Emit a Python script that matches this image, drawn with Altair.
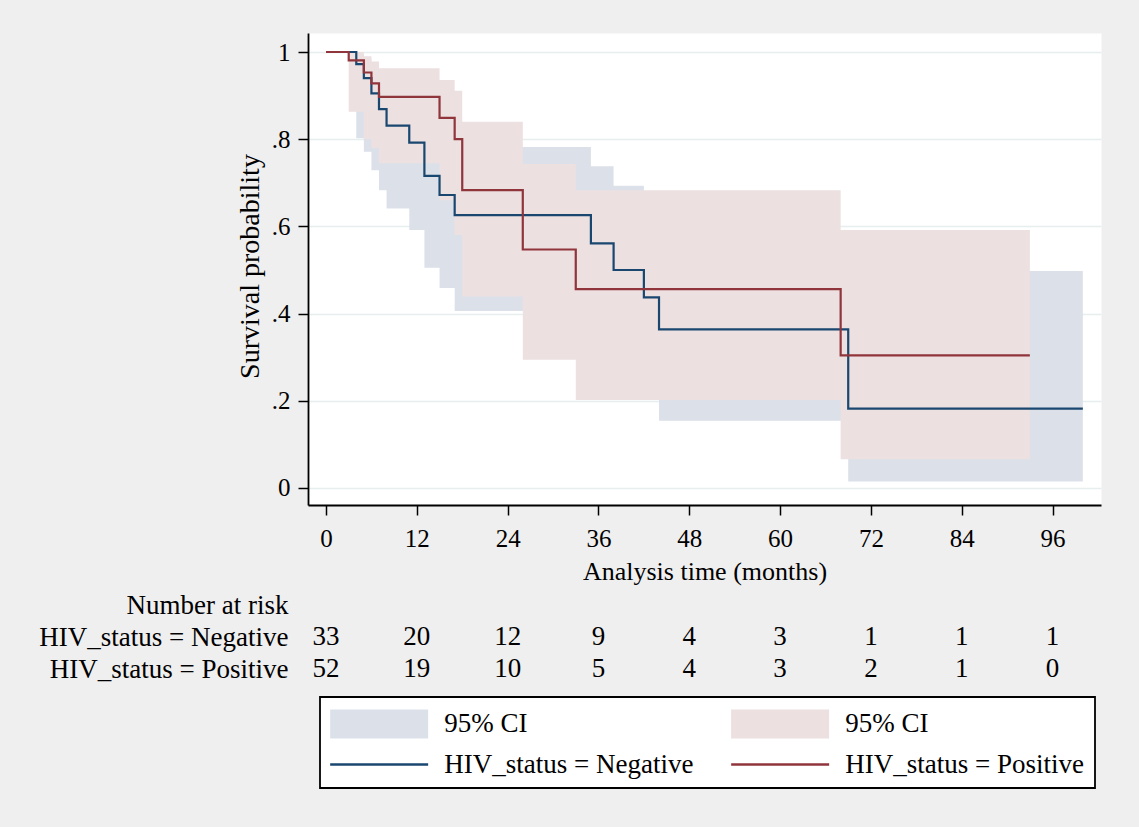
import altair as alt
import pandas as pd

FONT = "Liberation Serif"
FS_TICK = 25
FS_XTITLE = 26
FS_YTITLE = 28
FS_TEXT = 27

# ---- Kaplan-Meier estimates ----
neg_time = [0, 4, 5, 6, 7, 8, 11, 13, 15, 17, 35, 38, 42, 44, 69, 100]
neg_surv = [1.0, 0.972, 0.940, 0.905, 0.869, 0.831, 0.792, 0.716, 0.672, 0.626,
            0.561, 0.500, 0.437, 0.364, 0.182, 0.182]

pos_time = [0, 3, 5, 6, 7, 15, 17, 18, 26, 33, 68, 93]
pos_surv = [1.0, 0.981, 0.953, 0.928, 0.897, 0.849, 0.800, 0.683, 0.547, 0.456,
            0.304, 0.304]

# ---- 95% confidence bands ----
neg_ci_time = [4, 5, 6, 7, 8, 11, 13, 15, 17, 35, 38, 42, 44, 69, 100]
neg_lo = [0.802, 0.771, 0.729, 0.683, 0.641, 0.592, 0.505, 0.459, 0.406, 0.33,
          0.28, 0.23, 0.154, 0.015, 0.015]
neg_hi = [0.995, 0.985, 0.97, 0.95, 0.93, 0.90, 0.85, 0.82, 0.782, 0.738,
          0.693, 0.64, 0.58, 0.498, 0.498]

pos_ci_time = [3, 5, 6, 7, 15, 17, 18, 26, 33, 68, 93]
pos_lo = [0.863, 0.80, 0.78, 0.745, 0.66, 0.58, 0.439, 0.294, 0.202, 0.066, 0.066]
pos_hi = [1.0, 0.99, 0.978, 0.963, 0.936, 0.911, 0.84, 0.743, 0.683, 0.592, 0.592]

# ---- number at risk table ----
risk_times = [0, 12, 24, 36, 48, 60, 72, 84, 96]
risk_neg = [33, 20, 12, 9, 4, 3, 1, 1, 1]
risk_pos = [52, 19, 10, 5, 4, 3, 2, 1, 0]
risk_rows = ["Number at risk", "HIV_status = Negative", "HIV_status = Positive"]

# ---- legend entries (column-major: negative column, positive column) ----
legend_keys = ["95% CI|Negative", "HIV_status = Negative",
               "95% CI|Positive", "HIV_status = Positive"]
legend_colors = ["#dce1e9", "#1a476f", "#ece0e1", "#90353b"]
ci_neg_colour, line_neg_colour, ci_pos_colour, line_pos_colour = legend_colors

x_ticks = list(range(0, 97, 12))
y_ticks = [0, 0.2, 0.4, 0.6, 0.8, 1]

ci_path = "M-3,-0.888H3V0.888H-3Z"
line_path = "M-3,-0.08H3V0.08H-3Z"

neg_ci = pd.DataFrame({"t": neg_ci_time, "lo": neg_lo, "hi": neg_hi})
pos_ci = pd.DataFrame({"t": pos_ci_time, "lo": pos_lo, "hi": pos_hi})
neg_km = pd.DataFrame({"t": neg_time, "s": neg_surv})
pos_km = pd.DataFrame({"t": pos_time, "s": pos_surv})
risk_df = pd.DataFrame({
    "t": risk_times * 2,
    "n": risk_neg + risk_pos,
    "row": [risk_rows[1]] * len(risk_times) + [risk_rows[2]] * len(risk_times),
})
legend_df = pd.DataFrame({"key": legend_keys})

x_scale = alt.Scale(domain=[-2.38, 102.4], nice=False, zero=False)
y_scale = alt.Scale(domain=[-0.039, 1.0436], nice=False, zero=False)

x_axis = alt.Axis(
    values=x_ticks, title="Analysis time (months)", grid=False,
    tickSize=10, tickWidth=1.5, tickColor="black",
    domainColor="black", domainWidth=1.8,
    labelFont=FONT, labelFontSize=FS_TICK, labelColor="black", labelPadding=11,
    labelFlush=False, labelAngle=0,
    titleFont=FONT, titleFontSize=FS_XTITLE, titleFontWeight="normal", titleColor="black",
    titleX=396.5, titleY=66, titleAlign="center", titleBaseline="middle",
)
y_axis = alt.Axis(
    values=y_ticks, title="Survival probability",
    labelExpr="datum.value == 0 ? '0' : datum.value == 1 ? '1' : replace(format(datum.value, '.1f'), '0.', '.')",
    grid=True, gridColor="#e6eef0", gridWidth=1.5,
    tickSize=10, tickWidth=1.5, tickColor="black",
    domainColor="black", domainWidth=1.8,
    labelFont=FONT, labelFontSize=FS_TICK, labelColor="black", labelPadding=8,
    labelFlush=False, labelBaseline="middle",
    titleFont=FONT, titleFontSize=FS_YTITLE, titleFontWeight="normal", titleColor="black",
    titleX=-58, titleY=233, titleAlign="center", titleBaseline="middle", titleAngle=270,
)


def ci_layer(df, colour):
    return alt.Chart(df).mark_area(interpolate="step-after", opacity=1, color=colour).encode(
        x=alt.X("t:Q", scale=x_scale, axis=x_axis),
        y=alt.Y("lo:Q", scale=y_scale, axis=y_axis),
        y2="hi:Q",
    )


def km_layer(df, colour):
    return alt.Chart(df).mark_line(interpolate="step-after", strokeWidth=2.2, color=colour).encode(
        x=alt.X("t:Q", scale=x_scale, axis=x_axis),
        y=alt.Y("s:Q", scale=y_scale, axis=y_axis),
    )


legend = alt.Legend(
    title=None, orient="none", legendX=12, legendY=664,
    columns=2, columnPadding=37, rowPadding=9, padding=10,
    fillColor="white", strokeColor="black",
    labelFont=FONT, labelFontSize=FS_TEXT, labelColor="black", labelLimit=0,
    labelExpr="split(datum.label, '|')[0]", labelBaseline="middle",
    symbolSize=1067, symbolOffset=32.65, labelOffset=48.65,
    symbolStrokeWidth=0, symbolOpacity=1,
)

legend_layer = alt.Chart(legend_df).mark_point(filled=True, opacity=1).encode(
    fill=alt.Fill("key:N", scale=alt.Scale(domain=legend_keys, range=legend_colors), legend=legend),
    shape=alt.Shape("key:N", scale=alt.Scale(domain=legend_keys,
                                             range=[ci_path, line_path, ci_path, line_path]),
                    legend=legend),
).transform_filter("datum.key == 'none'")

plot = alt.layer(
    ci_layer(neg_ci, ci_neg_colour),
    ci_layer(pos_ci, ci_pos_colour),
    km_layer(neg_km, line_neg_colour),
    km_layer(pos_km, line_pos_colour),
    legend_layer,
)

risk = alt.Chart(risk_df).mark_text(font=FONT, fontSize=FS_TEXT, color="black",
                                    align="center", baseline="middle").encode(
    x=alt.X("t:Q", scale=x_scale, axis=x_axis),
    y=alt.Y("row:N",
            scale=alt.Scale(type="point", domain=risk_rows, range=[572, 636], padding=0),
            axis=alt.Axis(orient="left", title=None, domain=False, ticks=False, tickSize=0,
                          grid=False, labelPadding=20, labelFont=FONT, labelFontSize=FS_TEXT,
                          labelColor="black", labelLimit=0, labelBaseline="middle")),
    text="n:Q",
)

base = alt.layer(plot, risk).resolve_scale(y="independent").properties(
    width=793, height=472,
    padding={"left": 308, "top": 33, "right": 38, "bottom": 322},
    autosize=alt.AutoSizeParams(type="none"),
    background="#efefef",
    view=alt.ViewBackground(fill="white", stroke="transparent"),
)

opts = {"renderer": "svg", "actions": False}
try:
    chart = base.configure(font=FONT).configure_view(fill="white", stroke="transparent") \
        .configure_legend(strokeWidth=1.8)
    chart.save("out.html", embed_options=opts)
except Exception:
    chart = base.configure(font=FONT).configure_view(fill="white", stroke="transparent")
    chart.save("out.html", embed_options=opts)
